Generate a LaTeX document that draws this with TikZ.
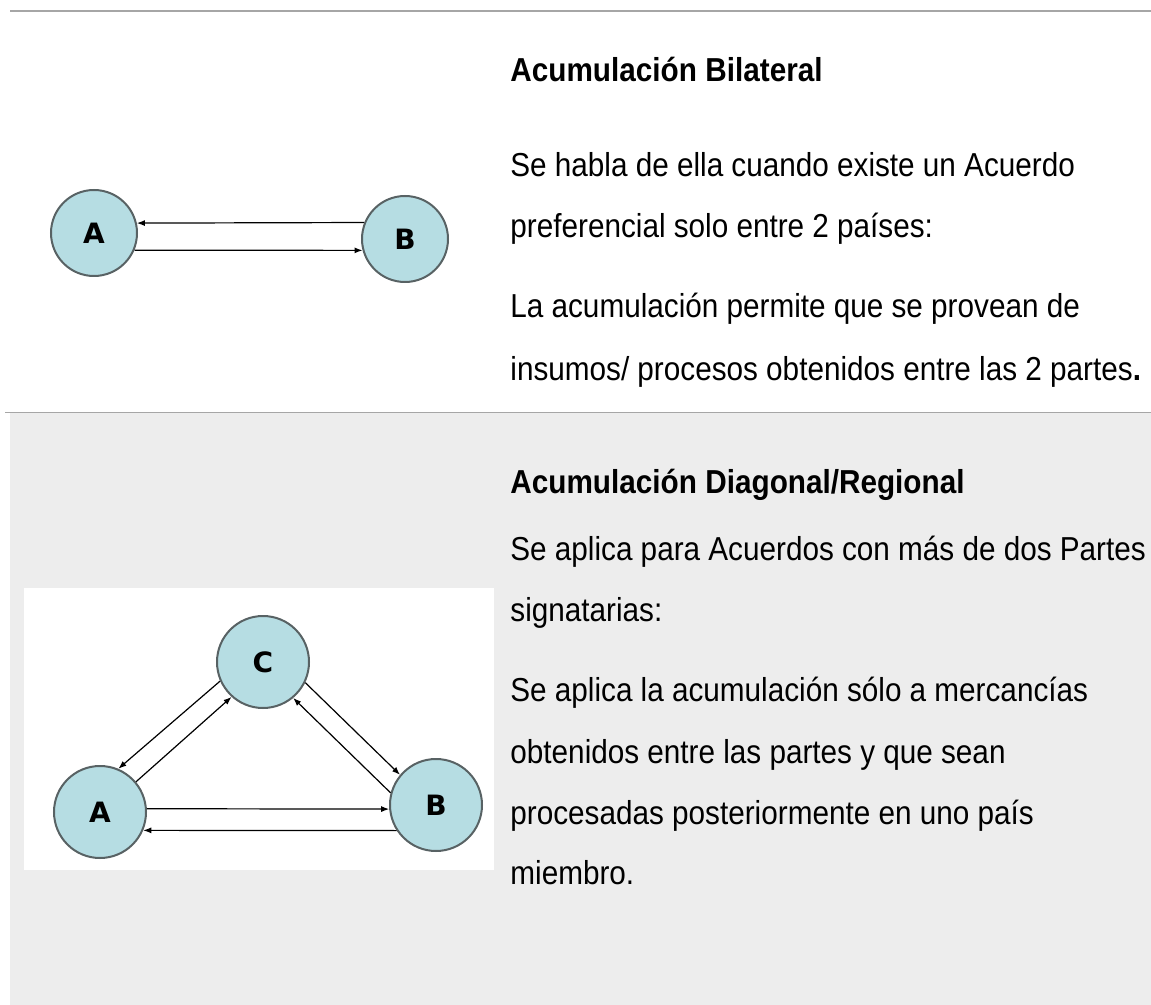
\documentclass[tikz,border=0pt]{standalone}
\usepackage{fontspec}
\setmainfont{Liberation Sans}[FakeStretch=0.895]
\newfontfamily\lettfont{DejaVu Sans}
\usetikzlibrary{arrows.meta,positioning}
\definecolor{paleblue}{RGB}{182,221,227}
\definecolor{ringgray}{RGB}{88,98,100}
\definecolor{rowgray}{RGB}{237,237,237}
\definecolor{rulegray}{RGB}{166,166,166}
\newcommand\bodyfont{\fontsize{16.6pt}{20pt}\selectfont\spaceskip 4.1pt\relax}
\newcommand\headfont{\bfseries\fontsize{16.6pt}{20pt}\selectfont\spaceskip 4.2pt\relax}
\tikzset{%
	country/.style = {draw=ringgray, fill=paleblue, circle, line width=1pt, inner sep=0pt, font=\lettfont\bfseries\fontsize{14pt}{14pt}\selectfont}, % country circle
	flow/.style    = {-{Latex[length=4pt,width=3pt]}, line width=0.6pt}, % trade arrow
	txt/.style     = {anchor=west, text width=360pt, align=flush left, inner sep=0pt, text height=12pt, text depth=3.5pt, font=\bodyfont},
	head/.style    = {txt, font=\headfont},
}
\begin{document}
\begin{tikzpicture}[x=0.5pt,y=-0.5pt,node distance=30.5pt]
	\useasboundingbox (0,0) rectangle (1151,1005);
	% table rows
	\fill[rowgray] (10,413) rectangle (1151,1005);
	\fill[white] (24,588) rectangle (494,870);
	\draw[rulegray, line width=1.1pt] (10,11) -- (1151,11);
	\draw[rulegray, line width=0.5pt] (5,412.5) -- (1151,412.5);
	
	% bilateral
	\node [country, minimum size=43pt] (tA) at (94,233) {A};
	\node [country, minimum size=43pt] (tB) at (405,239) {B};
	\draw[flow] (tB.158) -- (tA.13);
	\draw[flow] (tA.-23) -- (tB.195);
	
	\node [head] (bil) at (510,73) {Acumulación Bilateral};
	\node [txt] (bil1) [below of=bil, node distance=47.5pt] {Se habla de ella cuando existe un Acuerdo};
	\node [txt] (bil2) [below of=bil1] {preferencial solo entre 2 países:};
	\node [txt] (bil3) [below of=bil2, node distance=40pt] {La acumulación permite que se provean de};
	\node [txt] (bil4) [below of=bil3, node distance=31.5pt] {insumos/ procesos obtenidos entre las 2 partes{\bfseries .}};
	
	% diagonal / regional
	\node [country, minimum size=46pt] (dC) at (263,662) {C};
	\node [country, minimum size=46pt] (dA) at (100,812) {A};
	\node [country, minimum size=46pt] (dB) at (436,805) {B};
	\draw[flow] (dC.204) -- (dA.67);
	\draw[flow] (dA.40) -- (dC.228);
	\draw[flow] (dC.334) -- (dB.140);
	\draw[flow] (dB.165) -- (dC.310);
	\draw[flow] (dA.4) -- (dB.185);
	\draw[flow] (dB.213) -- (dA.-23);
	
	\node [head] (reg) at (510,485) {Acumulación Diagonal/Regional};
	\node [txt] (reg1) [below of=reg, node distance=33.5pt] {Se aplica para Acuerdos con más de dos Partes};
	\node [txt] (reg2) [below of=reg1] {signatarias:};
	\node [txt] (reg3) [below of=reg2, node distance=40pt] {Se aplica la acumulación sólo a mercancías};
	\node [txt] (reg4) [below of=reg3, node distance=31pt] {obtenidos entre las partes y que sean};
	\node [txt] (reg5) [below of=reg4] {procesadas posteriormente en uno país};
	\node [txt] (reg6) [below of=reg5, node distance=30pt] {miembro.};
\end{tikzpicture}
\end{document}
